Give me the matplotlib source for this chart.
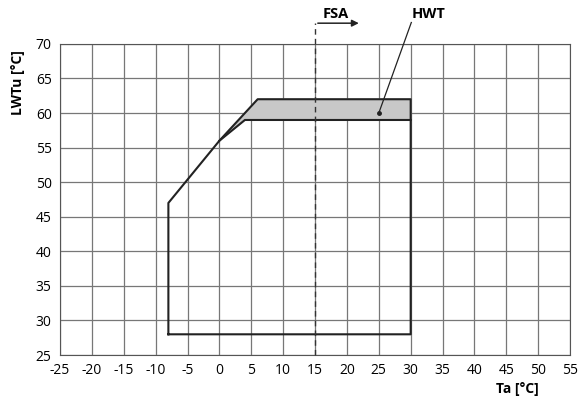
import matplotlib.pyplot as plt

# operating envelope (Ta, LWTu)
env_ta = [-8, -8, 0, 6, 30, 30, -8]
env_lwt = [28, 47, 56, 62, 62, 28, 28]
inner_ta = [0, 4, 30]
inner_lwt = [56, 59, 59]
hwt_ta = [0, 6, 30, 30, 4]
hwt_lwt = [56, 62, 62, 59, 59]
fsa_ta = 15
hwt_point = (25, 60)

xticks = list(range(-25, 60, 5))
yticks = list(range(25, 75, 5))

plt.rcParams['font.family'] = ['Open Sans', 'DejaVu Sans']
plt.rcParams['axes.unicode_minus'] = False

fig = plt.figure(figsize=(5.79, 4.03), dpi=100)
ax = fig.add_axes([0.1036, 0.119, 0.881, 0.772])

ax.fill(hwt_ta, hwt_lwt, color='#c8c8c8', zorder=2)
ax.plot(env_ta, env_lwt, color='#222222', lw=1.5, zorder=3)
ax.plot(inner_ta, inner_lwt, color='#222222', lw=1.5, zorder=3)

ax.plot([fsa_ta, fsa_ta], [25, 73], color='#333333', lw=1, ls=(0, (4, 3)), clip_on=False, zorder=3)
ax.annotate('', xy=(22.3, 73), xytext=(15, 73), annotation_clip=False,
            arrowprops=dict(arrowstyle='-|>', color='#222222', lw=1.1, mutation_scale=10))
ax.text(18.3, 73.3, 'FSA', fontsize=10.5, fontweight='bold', ha='center', va='bottom', clip_on=False)

ax.plot([hwt_point[0], 30.1], [hwt_point[1], 73.1], color='#222222', lw=0.9, clip_on=False, zorder=4)
ax.plot([hwt_point[0]], [hwt_point[1]], 'o', color='#222222', ms=2.5, zorder=5)
ax.text(32.8, 73.3, 'HWT', fontsize=10.5, fontweight='bold', ha='center', va='bottom', clip_on=False)

ax.set_xlim(-25, 55)
ax.set_ylim(25, 70)
ax.set_xticks(xticks)
ax.set_yticks(yticks)
ax.grid(True, color='#777777', lw=0.9)
ax.set_axisbelow(True)
ax.tick_params(length=0, labelsize=10, pad=6)
for s in ax.spines.values():
    s.set_color('#555555')

ax.set_xlabel('Ta [°C]', fontsize=10, fontweight='bold')
ax.xaxis.set_label_coords(0.896, -0.088)
ax.set_ylabel('LWTu [°C]', fontsize=10, fontweight='bold')
ax.yaxis.set_label_coords(-0.068, 0.875)

fig.savefig('out.png', dpi=100)
